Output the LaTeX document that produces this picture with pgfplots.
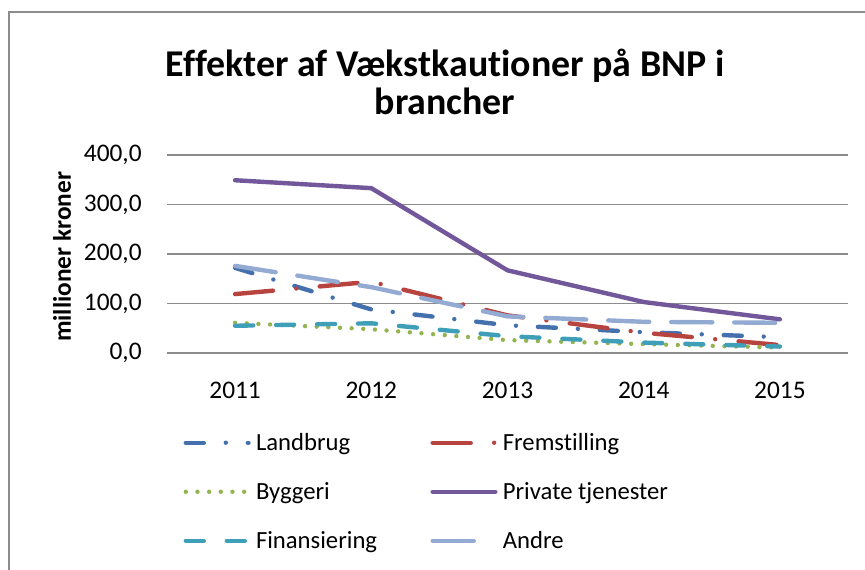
\documentclass[border=0pt]{standalone}
\usepackage{pgfplots}
\pgfplotsset{compat=1.18}
\usepackage{fontspec}
\setmainfont{Carlito}[Ligatures={NoCommon}]
\definecolor{cLand}{HTML}{4470AE}
\definecolor{cFrem}{HTML}{B8443F}
\definecolor{cBygg}{HTML}{93B44F}
\definecolor{cPriv}{HTML}{72579A}
\definecolor{cFin}{HTML}{3F9EB8}
\definecolor{cAndre}{HTML}{93AAD2}
\definecolor{cGrid}{HTML}{8C8C8C}
\definecolor{cFrame}{HTML}{8C8C8C}
\begin{document}
\begin{tikzpicture}
\path[use as bounding box] (0,0) rectangle (648.75pt,426.75pt);
\draw[cFrame, line width=1.3pt] (6.5pt,-5pt) |- (660pt,417.5pt);
\node[align=center, font=\bfseries\fontsize{28.4}{28.5}\selectfont] at (333.75pt,365.5pt) {Effekter af Vækstkautioner på BNP i\\brancher};
\begin{axis}[
  at={(125.25pt,162pt)}, anchor=south west,
  scale only axis, width=510.75pt, height=148.5pt,
  xmin=-0.5, xmax=4.5, ymin=0, ymax=400,
  xtick={0,1,2,3,4}, xticklabels={2011,2012,2013,2014,2015},
  ytick={0,100,200,300,400},
  axis line style={draw=none},
  major tick length=0pt,
  ymajorgrids, grid style={cGrid, line width=1.1pt},
  tick label style={font=\fontsize{19}{22}\selectfont, text=black},
  /pgf/number format/.cd, fixed, fixed zerofill, precision=1, use comma, 1000 sep={}, assume math mode=true,
  /pgfplots/.cd,
  yticklabel style={xshift=-15.5pt},
  xticklabel style={yshift=-18pt},
  ylabel={millioner kroner},
  ylabel style={at={(axis description cs:-0.154,0.485)}, anchor=center, font=\bfseries\fontsize{19}{22}\selectfont},
  legend columns=2,
  legend cell align=left,
  legend style={draw=none, fill=none, at={(axis description cs:0.024,-0.39)}, anchor=north west,
    font=\fontsize{18.5}{22}\selectfont, inner sep=0pt, row sep=18.5pt,
    /tikz/every odd column/.append style={column sep=2pt},
    /tikz/every even column/.append style={column sep=38pt}},
  legend image code/.code={\draw[#1] (0pt,0pt) -- (47pt,0pt);},
  every axis plot/.append style={line width=3.3pt, line cap=round, line join=round},
]
\addplot[cLand, dash pattern=on 13.5pt off 16.5pt on 0pt off 16.5pt] coordinates {(0,172) (1,88) (2,56) (3,42) (4,32)};
\addlegendentry{Landbrug}
\addplot[cFrem, dash pattern=on 28.5pt off 17.6pt on 0pt off 17.6pt] coordinates {(0,119) (1,144) (2,76) (3,41) (4,16)};
\addlegendentry{Fremstilling}
\addplot[cBygg, dash pattern=on 0pt off 8.75pt] coordinates {(0,61) (1,48) (2,26) (3,18) (4,11)};
\addlegendentry{Byggeri}
\addplot[cPriv] coordinates {(0,349) (1,333) (2,167) (3,103) (4,68)};
\addlegendentry{Private tjenester}
\addplot[cFin, dash pattern=on 13.5pt off 17.25pt] coordinates {(0,55) (1,60) (2,34) (3,21) (4,13)};
\addlegendentry{Finansiering}
\addplot[cAndre, dash pattern=on 30.75pt off 16.5pt] coordinates {(0,176) (1,133) (2,74) (3,63) (4,61)};
\addlegendentry{Andre}
\end{axis}
\end{tikzpicture}
\end{document}
